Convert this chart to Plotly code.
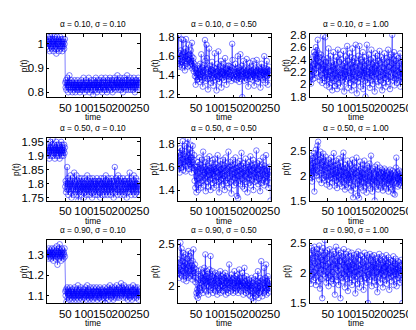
import plotly.graph_objects as go
from plotly.subplots import make_subplots

# time axis and panel parameters
time = list(range(1, 251))
alphas = ["0.10", "0.50", "0.90"]
sigmas = ["0.10", "0.50", "1.00"]

# p(t) for alpha = 0.10
p_a10_s10 = [
    1.01, 0.99, 1.03, 1.00, 0.98, 1.02, 1.01, 0.97, 1.00, 1.03,
    0.99, 1.02, 1.00, 0.98, 1.04, 1.01, 0.99, 0.97, 1.02, 1.00,
    1.03, 0.98, 1.01, 0.99, 1.02, 0.96, 1.00, 1.03, 0.98, 1.01,
    1.00, 1.02, 0.97, 1.01, 0.99, 1.03, 1.00, 0.98, 1.02, 0.99,
    1.01, 0.97, 1.00, 1.02, 0.99, 1.01, 0.98, 1.00, 1.02, 0.84,
    0.82, 0.85, 0.81, 0.84, 0.83, 0.86, 0.82, 0.80, 0.84, 0.83,
    0.87, 0.82, 0.84, 0.81, 0.83, 0.85, 0.82, 0.84, 0.80, 0.83,
    0.82, 0.84, 0.81, 0.83, 0.85, 0.82, 0.80, 0.83, 0.84, 0.82,
    0.81, 0.83, 0.85, 0.82, 0.84, 0.81, 0.83, 0.82, 0.80, 0.84,
    0.83, 0.81, 0.85, 0.82, 0.83, 0.84, 0.81, 0.82, 0.86, 0.83,
    0.82, 0.80, 0.84, 0.83, 0.81, 0.85, 0.82, 0.84, 0.83, 0.81,
    0.84, 0.82, 0.86, 0.83, 0.80, 0.82, 0.84, 0.81, 0.83, 0.85,
    0.82, 0.84, 0.83, 0.81, 0.79, 0.83, 0.85, 0.82, 0.84, 0.83,
    0.81, 0.86, 0.82, 0.84, 0.80, 0.83, 0.85, 0.82, 0.81, 0.84,
    0.83, 0.82, 0.85, 0.81, 0.84, 0.82, 0.86, 0.83, 0.80, 0.84,
    0.82, 0.85, 0.83, 0.81, 0.84, 0.82, 0.83, 0.86, 0.81, 0.84,
    0.83, 0.80, 0.85, 0.82, 0.84, 0.81, 0.83, 0.85, 0.82, 0.86,
    0.84, 0.82, 0.83, 0.81, 0.85, 0.83, 0.80, 0.84, 0.82, 0.85,
    0.83, 0.86, 0.82, 0.84, 0.81, 0.83, 0.85, 0.82, 0.84, 0.87,
    0.82, 0.84, 0.83, 0.81, 0.85, 0.82, 0.84, 0.86, 0.83, 0.81,
    0.84, 0.82, 0.85, 0.83, 0.80, 0.84, 0.82, 0.86, 0.83, 0.85,
    0.82, 0.84, 0.81, 0.85, 0.83, 0.87, 0.82, 0.84, 0.83, 0.81,
    0.85, 0.83, 0.84, 0.82, 0.86, 0.81, 0.84, 0.83, 0.85, 0.82,
    0.84, 0.81, 0.83, 0.86, 0.82, 0.84, 0.80, 0.85, 0.83, 0.84,
    0.82, 0.85, 0.83, 0.81, 0.84, 0.86, 0.82, 0.83, 0.85, 0.84,
]
p_a10_s50 = [
    1.52, 1.58, 1.82, 1.55, 1.49, 1.63, 1.57, 1.51, 1.66, 1.60,
    1.78, 1.54, 1.48, 1.62, 1.77, 1.56, 1.50, 1.64, 1.59, 1.45,
    1.68, 1.55, 1.78, 1.60, 1.52, 1.57, 1.65, 1.49, 1.61, 1.72,
    1.56, 1.62, 1.50, 1.58, 1.54, 1.66, 1.52, 1.60, 1.74, 1.47,
    1.55, 1.50, 1.58, 1.44, 1.52, 1.48, 1.39, 1.46, 1.30, 1.42,
    1.38, 1.45, 1.35, 1.50, 1.42, 1.36, 1.47, 1.40, 1.33, 1.44,
    1.52, 1.38, 1.46, 1.62, 1.41, 1.35, 1.48, 1.28, 1.43, 1.39,
    1.45, 1.51, 1.37, 1.77, 1.55, 1.34, 1.46, 1.72, 1.58, 1.36,
    1.43, 1.25, 1.47, 1.39, 1.68, 1.41, 1.36, 1.50, 1.44, 1.32,
    1.46, 1.40, 1.54, 1.37, 1.45, 1.29, 1.42, 1.48, 1.38, 1.63,
    1.41, 1.35, 1.47, 1.43, 1.24, 1.39, 1.52, 1.44, 1.36, 1.65,
    1.40, 1.46, 1.33, 1.49, 1.42, 1.38, 1.55, 1.27, 1.44, 1.41,
    1.37, 1.48, 1.43, 1.52, 1.35, 1.45, 1.40, 1.58, 1.38, 1.46,
    1.42, 1.30, 1.47, 1.39, 1.44, 1.50, 1.41, 1.36, 1.50, 1.43,
    1.38, 1.49, 1.45, 1.40, 1.34, 1.48, 1.73, 1.56, 1.37, 1.44,
    1.40, 1.46, 1.36, 1.43, 1.38, 1.52, 1.41, 1.35, 1.47, 1.39,
    1.44, 1.60, 1.37, 1.42, 1.48, 1.33, 1.45, 1.40, 1.62, 1.36,
    1.43, 1.39, 1.50, 1.17, 1.44, 1.41, 1.55, 1.38, 1.46, 1.34,
    1.42, 1.48, 1.37, 1.44, 1.40, 1.57, 1.35, 1.45, 1.41, 1.28,
    1.47, 1.39, 1.43, 1.53, 1.36, 1.44, 1.40, 1.49, 1.38, 1.45,
    1.42, 1.35, 1.55, 1.41, 1.46, 1.29, 1.43, 1.39, 1.48, 1.37,
    1.44, 1.40, 1.56, 1.36, 1.45, 1.42, 1.33, 1.49, 1.41, 1.47,
    1.38, 1.44, 1.27, 1.46, 1.40, 1.52, 1.37, 1.43, 1.48, 1.35,
    1.45, 1.41, 1.60, 1.38, 1.44, 1.32, 1.47, 1.40, 1.43, 1.55,
    1.39, 1.46, 1.30, 1.44, 1.41, 1.49, 1.37, 1.45, 1.42, 1.44,
]
p_a10_s100 = [
    2.05, 2.28, 2.12, 2.35, 2.01, 2.22, 2.40, 2.15, 2.30, 2.08,
    2.45, 2.20, 2.52, 2.33, 2.10, 2.48, 2.25, 2.60, 2.18, 2.42,
    2.55, 2.30, 2.72, 2.38, 2.12, 2.50, 2.28, 2.44, 2.06, 2.35,
    2.22, 2.48, 2.15, 2.32, 2.02, 2.25, 2.78, 2.18, 2.40, 2.10,
    2.30, 2.05, 2.76, 2.20, 2.36, 1.98, 2.15, 2.42, 2.08, 2.26,
    2.12, 2.58, 2.20, 1.95, 2.30, 2.14, 2.46, 2.02, 2.22, 2.35,
    2.10, 1.90, 2.28, 2.16, 2.52, 2.05, 2.24, 2.38, 1.97, 2.18,
    2.32, 2.08, 2.44, 2.14, 1.92, 2.26, 2.56, 2.11, 2.20, 2.02,
    2.36, 2.15, 2.48, 1.96, 2.24, 2.10, 2.40, 2.18, 2.06, 2.30,
    2.12, 2.54, 2.22, 1.88, 2.34, 2.16, 2.04, 2.45, 2.20, 2.08,
    2.28, 2.62, 2.14, 2.38, 1.94, 2.22, 2.10, 2.50, 2.18, 2.02,
    2.32, 2.12, 2.44, 1.90, 2.26, 2.58, 2.08, 2.20, 2.36, 1.98,
    2.16, 2.42, 2.06, 2.28, 2.64, 2.12, 2.22, 1.85, 2.34, 2.18,
    2.04, 2.46, 2.24, 2.10, 2.62, 2.15, 2.30, 1.96, 2.40, 2.20,
    2.08, 2.36, 2.14, 2.52, 1.92, 2.26, 2.18, 2.44, 2.05, 2.30,
    1.80, 2.22, 2.38, 2.12, 2.64, 2.16, 2.02, 2.34, 2.20, 2.48,
    2.10, 2.28, 1.94, 2.40, 2.18, 2.06, 2.56, 2.24, 2.14, 2.32,
    2.00, 2.42, 2.20, 2.12, 2.36, 1.88, 2.26, 2.50, 2.16, 2.08,
    2.30, 2.22, 2.46, 2.04, 2.18, 2.38, 1.98, 2.24, 2.54, 2.12,
    2.34, 2.06, 2.20, 2.44, 2.14, 1.90, 2.28, 2.40, 2.16, 2.02,
    2.26, 2.50, 2.10, 2.32, 2.18, 1.96, 2.42, 2.22, 2.08, 2.36,
    2.14, 2.56, 2.04, 2.28, 2.20, 2.44, 1.92, 2.30, 2.12, 2.48,
    2.18, 2.34, 2.80, 2.06, 2.24, 2.40, 2.10, 2.52, 1.98, 2.26,
    2.16, 2.38, 2.08, 2.46, 2.22, 2.02, 2.30, 2.14, 2.42, 2.20,
    2.06, 2.34, 2.18, 2.50, 1.96, 2.24, 2.12, 2.38, 2.04, 2.16,
]

# p(t) for alpha = 0.50
p_a50_s10 = [
    1.91, 1.93, 1.90, 1.92, 1.94, 1.91, 1.89, 1.93, 1.92, 1.95,
    1.90, 1.93, 1.91, 1.94, 1.92, 1.96, 1.90, 1.93, 1.91, 1.92,
    1.94, 1.89, 1.92, 1.93, 1.91, 1.95, 1.90, 1.92, 1.94, 1.91,
    1.93, 1.90, 1.92, 1.94, 1.89, 1.93, 1.91, 1.92, 1.95, 1.90,
    1.92, 1.94, 1.91, 1.93, 1.90, 1.92, 1.94, 1.91, 1.93, 1.79,
    1.81, 1.77, 1.80, 1.78, 1.86, 1.79, 1.82, 1.76, 1.80, 1.78,
    1.81, 1.79, 1.77, 1.83, 1.80, 1.78, 1.75, 1.81, 1.79, 1.82,
    1.78, 1.80, 1.76, 1.84, 1.79, 1.81, 1.77, 1.80, 1.78, 1.83,
    1.79, 1.76, 1.81, 1.78, 1.74, 1.80, 1.82, 1.77, 1.79, 1.81,
    1.78, 1.80, 1.76, 1.82, 1.79, 1.77, 1.81, 1.78, 1.80, 1.75,
    1.79, 1.82, 1.77, 1.80, 1.78, 1.81, 1.76, 1.79, 1.83, 1.78,
    1.80, 1.77, 1.81, 1.79, 1.76, 1.82, 1.78, 1.80, 1.77, 1.81,
    1.79, 1.75, 1.80, 1.82, 1.78, 1.81, 1.77, 1.79, 1.80, 1.76,
    1.81, 1.78, 1.80, 1.77, 1.82, 1.79, 1.76, 1.81, 1.78, 1.80,
    1.77, 1.81, 1.79, 1.75, 1.80, 1.82, 1.78, 1.80, 1.76, 1.81,
    1.79, 1.77, 1.82, 1.78, 1.80, 1.76, 1.81, 1.79, 1.83, 1.77,
    1.80, 1.78, 1.81, 1.76, 1.79, 1.82, 1.78, 1.80, 1.77, 1.81,
    1.79, 1.76, 1.80, 1.82, 1.78, 1.81, 1.77, 1.79, 1.80, 1.75,
    1.81, 1.78, 1.86, 1.79, 1.77, 1.82, 1.80, 1.78, 1.81, 1.76,
    1.80, 1.83, 1.78, 1.81, 1.77, 1.79, 1.82, 1.76, 1.80, 1.78,
    1.81, 1.79, 1.77, 1.80, 1.82, 1.78, 1.76, 1.81, 1.79, 1.80,
    1.77, 1.81, 1.78, 1.80, 1.75, 1.82, 1.79, 1.77, 1.80, 1.78,
    1.81, 1.79, 1.84, 1.77, 1.80, 1.78, 1.82, 1.76, 1.79, 1.81,
    1.78, 1.80, 1.77, 1.83, 1.79, 1.81, 1.76, 1.80, 1.78, 1.82,
    1.79, 1.77, 1.80, 1.78, 1.81, 1.79, 1.76, 1.80, 1.79, 1.78,
]
p_a50_s50 = [
    1.65, 1.58, 1.72, 1.61, 1.68, 1.55, 1.76, 1.63, 1.70, 1.59,
    1.66, 1.74, 1.60, 1.82, 1.67, 1.57, 1.71, 1.64, 1.78, 1.62,
    1.69, 1.56, 1.73, 1.65, 1.80, 1.61, 1.68, 1.84, 1.64, 1.70,
    1.58, 1.75, 1.66, 1.62, 1.79, 1.60, 1.68, 1.55, 1.72, 1.64,
    1.78, 1.59, 1.66, 1.62, 1.70, 1.48, 1.60, 1.42, 1.57, 1.52,
    1.38, 1.60, 1.45, 1.55, 1.64, 1.40, 1.58, 1.50, 1.68, 1.46,
    1.56, 1.62, 1.42, 1.59, 1.51, 1.66, 1.48, 1.57, 1.73, 1.53,
    1.44, 1.60, 1.55, 1.50, 1.64, 1.39, 1.58, 1.52, 1.67, 1.47,
    1.56, 1.61, 1.43, 1.57, 1.53, 1.69, 1.49, 1.59, 1.40, 1.55,
    1.63, 1.50, 1.57, 1.46, 1.66, 1.54, 1.60, 1.42, 1.58, 1.52,
    1.67, 1.48, 1.56, 1.62, 1.44, 1.59, 1.51, 1.70, 1.55, 1.47,
    1.60, 1.38, 1.57, 1.53, 1.65, 1.49, 1.58, 1.44, 1.62, 1.54,
    1.50, 1.66, 1.45, 1.59, 1.52, 1.61, 1.40, 1.56, 1.68, 1.48,
    1.57, 1.53, 1.63, 1.46, 1.58, 1.50, 1.73, 1.55, 1.42, 1.60,
    1.52, 1.64, 1.47, 1.57, 1.37, 1.61, 1.54, 1.49, 1.66, 1.51,
    1.58, 1.44, 1.62, 1.55, 1.50, 1.68, 1.46, 1.59, 1.53, 1.35,
    1.56, 1.63, 1.33, 1.52, 1.60, 1.48, 1.57, 1.65, 1.45, 1.54,
    1.61, 1.72, 1.50, 1.58, 1.43, 1.55, 1.63, 1.49, 1.56, 1.41,
    1.59, 1.52, 1.67, 1.47, 1.57, 1.54, 1.62, 1.38, 1.55, 1.60,
    1.50, 1.64, 1.46, 1.58, 1.53, 1.69, 1.44, 1.56, 1.61, 1.49,
    1.57, 1.52, 1.66, 1.40, 1.59, 1.54, 1.62, 1.47, 1.55, 1.60,
    1.51, 1.74, 1.48, 1.57, 1.53, 1.63, 1.45, 1.58, 1.50, 1.65,
    1.54, 1.39, 1.60, 1.52, 1.57, 1.46, 1.62, 1.55, 1.49, 1.68,
    1.53, 1.58, 1.44, 1.61, 1.50, 1.56, 1.47, 1.70, 1.52, 1.57,
    1.48, 1.59, 1.54, 1.42, 1.56, 1.51, 1.60, 1.46, 1.53, 1.31,
]
p_a50_s100 = [
    2.08, 2.30, 1.95, 2.22, 2.40, 2.02, 2.15, 1.88, 2.35, 2.10,
    2.25, 1.98, 2.45, 1.68, 2.18, 2.38, 2.05, 2.52, 2.12, 2.28,
    2.00, 2.60, 2.20, 2.68, 2.08, 2.42, 1.92, 2.32, 2.15, 2.48,
    2.05, 2.22, 1.85, 2.36, 2.10, 2.28, 1.95, 2.44, 2.02, 2.18,
    2.30, 1.90, 2.12, 2.38, 1.98, 2.20, 1.82, 2.26, 2.06, 2.15,
    1.92, 2.32, 2.00, 2.14, 1.78, 2.24, 2.08, 1.96, 2.36, 2.02,
    2.18, 1.86, 2.10, 2.28, 1.94, 2.45, 2.04, 1.80, 2.20, 1.98,
    2.12, 2.30, 1.90, 2.06, 1.75, 2.22, 2.00, 2.16, 1.88, 2.34,
    1.96, 2.10, 1.84, 2.26, 2.02, 1.92, 2.18, 1.78, 2.08, 2.38,
    1.98, 2.46, 1.86, 2.14, 2.00, 1.72, 2.22, 1.94, 2.06, 1.82,
    2.16, 1.90, 2.30, 2.02, 1.76, 2.10, 1.96, 2.24, 1.85, 2.04,
    1.92, 2.20, 1.70, 2.08, 1.98, 2.32, 1.80, 1.56, 2.12, 1.94,
    2.26, 1.88, 2.04, 1.74, 2.16, 1.96, 2.36, 1.84, 2.06, 1.60,
    2.00, 2.18, 1.90, 1.55, 2.10, 1.82, 2.28, 1.98, 1.76, 2.14,
    1.88, 2.06, 1.94, 2.22, 1.70, 2.02, 1.86, 2.30, 1.96, 1.78,
    2.12, 1.92, 2.04, 1.66, 2.20, 1.98, 1.84, 2.16, 1.90, 2.08,
    1.80, 2.24, 1.96, 2.02, 1.74, 2.40, 1.88, 2.10, 1.94, 1.68,
    2.14, 1.92, 2.06, 1.82, 1.98, 1.50, 2.18, 1.90, 2.04, 1.78,
    2.10, 1.86, 2.22, 1.96, 1.72, 2.08, 1.94, 2.02, 1.80, 2.16,
    1.90, 2.06, 1.76, 1.98, 2.12, 1.84, 2.04, 1.70, 1.96, 2.08,
    1.88, 2.14, 1.78, 2.00, 1.92, 2.10, 1.74, 1.96, 2.06, 1.84,
    2.02, 1.90, 1.68, 2.08, 1.94, 1.82, 2.12, 1.96, 1.76, 2.04,
    1.88, 2.00, 1.72, 2.10, 1.92, 1.64, 2.06, 1.86, 1.98, 1.62,
    2.02, 1.90, 2.16, 2.36, 1.84, 1.96, 2.08, 1.78, 1.94, 2.04,
    1.82, 2.10, 1.92, 1.98, 1.86, 2.06, 1.80, 1.96, 1.90, 1.94,
]

# p(t) for alpha = 0.90
p_a90_s10 = [
    1.30, 1.32, 1.29, 1.31, 1.28, 1.33, 1.30, 1.31, 1.29, 1.32,
    1.30, 1.28, 1.31, 1.33, 1.29, 1.30, 1.32, 1.27, 1.31, 1.30,
    1.33, 1.29, 1.31, 1.28, 1.32, 1.30, 1.34, 1.29, 1.25, 1.31,
    1.30, 1.33, 1.28, 1.31, 1.35, 1.29, 1.32, 1.30, 1.27, 1.31,
    1.33, 1.29, 1.30, 1.32, 1.28, 1.31, 1.30, 1.33, 1.29, 1.12,
    1.10, 1.13, 1.07, 1.12, 1.14, 1.09, 1.11, 1.13, 1.10, 1.12,
    1.08, 1.11, 1.14, 1.10, 1.12, 1.09, 1.13, 1.11, 1.08, 1.12,
    1.10, 1.13, 1.09, 1.11, 1.14, 1.10, 1.12, 1.08, 1.11, 1.13,
    1.09, 1.12, 1.10, 1.15, 1.11, 1.08, 1.12, 1.10, 1.13, 1.09,
    1.11, 1.14, 1.10, 1.12, 1.08, 1.11, 1.13, 1.09, 1.12, 1.10,
    1.13, 1.09, 1.11, 1.14, 1.10, 1.12, 1.08, 1.11, 1.15, 1.10,
    1.12, 1.09, 1.13, 1.11, 1.08, 1.12, 1.10, 1.14, 1.09, 1.11,
    1.13, 1.10, 1.12, 1.08, 1.11, 1.14, 1.09, 1.12, 1.10, 1.13,
    1.11, 1.09, 1.12, 1.14, 1.10, 1.08, 1.12, 1.11, 1.13, 1.09,
    1.12, 1.10, 1.14, 1.09, 1.11, 1.13, 1.08, 1.12, 1.10, 1.11,
    1.13, 1.09, 1.12, 1.10, 1.14, 1.11, 1.065, 1.12, 1.10, 1.13,
    1.09, 1.12, 1.11, 1.14, 1.10, 1.12, 1.08, 1.13, 1.11, 1.15,
    1.10, 1.12, 1.09, 1.13, 1.11, 1.14, 1.10, 1.12, 1.08, 1.13,
    1.11, 1.09, 1.14, 1.12, 1.10, 1.13, 1.11, 1.15, 1.09, 1.12,
    1.10, 1.13, 1.11, 1.14, 1.09, 1.12, 1.10, 1.13, 1.11, 1.16,
    1.12, 1.10, 1.14, 1.11, 1.13, 1.09, 1.12, 1.15, 1.10, 1.13,
    1.11, 1.14, 1.09, 1.12, 1.10, 1.13, 1.11, 1.08, 1.12, 1.14,
    1.10, 1.13, 1.11, 1.09, 1.12, 1.14, 1.10, 1.12, 1.08, 1.13,
    1.11, 1.15, 1.10, 1.12, 1.09, 1.13, 1.11, 1.14, 1.10, 1.12,
    1.13, 1.09, 1.11, 1.14, 1.10, 1.12, 1.08, 1.13, 1.11, 1.12,
]
p_a90_s50 = [
    2.18, 2.32, 2.15, 2.22, 2.10, 2.28, 2.20, 2.52, 2.14, 2.25,
    2.45, 2.12, 2.30, 2.18, 2.40, 2.08, 2.24, 2.35, 2.16, 2.28,
    2.12, 2.38, 2.20, 2.06, 2.26, 2.33, 2.14, 2.22, 2.42, 2.10,
    2.24, 2.18, 2.36, 2.12, 2.28, 2.20, 2.40, 2.15, 2.25, 2.08,
    2.30, 2.18, 2.44, 2.12, 2.22, 2.16, 2.26, 2.05, 2.20, 2.10,
    1.92, 1.88, 1.96, 2.02, 1.86, 1.94, 2.18, 1.90, 2.08, 1.98,
    2.12, 2.04, 2.20, 1.95, 2.10, 2.02, 2.16, 1.92, 2.06, 2.14,
    2.00, 2.22, 2.08, 1.96, 2.38, 2.04, 2.12, 1.94, 2.18, 2.06,
    2.02, 2.15, 1.90, 2.10, 2.00, 2.20, 2.05, 1.95, 2.36, 2.08,
    1.98, 2.12, 2.02, 2.18, 1.92, 2.06, 2.10, 1.96, 2.14, 2.04,
    2.00, 2.16, 1.94, 2.08, 2.02, 2.12, 1.90, 2.06, 1.98, 2.14,
    2.04, 1.96, 2.10, 2.00, 2.18, 1.92, 2.06, 2.02, 2.12, 1.95,
    2.08, 2.00, 2.14, 1.94, 2.04, 2.10, 1.98, 2.16, 2.02, 1.90,
    2.06, 2.12, 1.96, 2.04, 2.10, 1.92, 2.08, 2.02, 2.26, 1.98,
    2.04, 2.10, 1.94, 2.06, 2.00, 2.14, 1.96, 2.08, 2.02, 1.92,
    2.10, 2.04, 2.18, 1.98, 2.06, 1.94, 2.12, 2.00, 2.08, 1.96,
    2.04, 2.14, 1.92, 2.06, 2.00, 2.20, 1.96, 2.10, 2.02, 2.08,
    1.94, 2.06, 2.00, 2.16, 1.98, 2.04, 1.90, 2.10, 2.02, 2.22,
    1.96, 2.06, 2.00, 1.92, 2.12, 2.02, 1.98, 2.08, 1.94, 2.04,
    2.00, 1.90, 2.08, 1.96, 2.02, 1.88, 2.06, 1.98, 2.10, 1.94,
    2.00, 1.86, 2.04, 1.82, 1.96, 2.08, 1.92, 2.00, 1.88, 2.12,
    1.96, 2.02, 1.90, 2.06, 1.94, 2.18, 1.98, 1.86, 2.04, 1.92,
    2.00, 2.10, 1.94, 2.06, 2.30, 1.96, 2.02, 1.88, 2.08, 1.98,
    2.04, 1.92, 2.22, 2.00, 1.94, 2.10, 1.98, 2.26, 1.90, 2.06,
    1.96, 2.02, 2.12, 1.92, 2.04, 1.98, 2.08, 1.94, 2.06, 2.00,
]
p_a90_s100 = [
    2.15, 1.95, 2.30, 2.05, 1.82, 2.42, 2.10, 1.98, 2.25, 2.38,
    1.88, 2.20, 2.02, 2.44, 1.92, 2.16, 2.34, 1.80, 2.28, 2.08,
    2.40, 1.96, 2.18, 2.32, 1.86, 2.12, 2.46, 2.00, 1.74, 2.26,
    2.06, 2.36, 1.90, 2.22, 1.58, 2.14, 2.42, 1.98, 2.30, 2.04,
    2.20, 2.55, 1.94, 2.12, 2.34, 1.84, 2.24, 2.02, 2.38, 1.92,
    2.16, 1.78, 2.28, 2.06, 2.40, 1.96, 2.18, 1.86, 2.30, 2.10,
    1.90, 2.24, 2.02, 2.36, 1.82, 2.14, 2.32, 1.98, 1.64, 2.20,
    2.08, 2.44, 1.94, 2.16, 1.88, 2.26, 2.04, 2.38, 1.80, 2.12,
    2.30, 1.96, 2.20, 1.58, 2.06, 2.34, 1.92, 2.18, 2.00, 2.28,
    1.86, 2.14, 2.40, 1.98, 2.22, 1.76, 2.10, 2.32, 1.94, 2.04,
    2.26, 1.90, 2.16, 1.70, 2.36, 2.02, 2.12, 1.84, 2.28, 1.98,
    2.18, 2.06, 1.92, 2.34, 1.80, 2.14, 2.24, 1.96, 2.08, 2.30,
    1.88, 2.20, 2.02, 1.66, 2.26, 2.10, 1.94, 2.32, 2.04, 1.82,
    2.16, 2.36, 1.98, 2.12, 1.76, 2.22, 2.06, 2.30, 1.90, 2.14,
    2.00, 2.28, 1.86, 2.18, 2.08, 1.72, 2.24, 1.96, 2.34, 2.04,
    1.92, 2.20, 2.10, 1.84, 2.30, 2.02, 2.14, 1.50, 2.26, 1.98,
    2.12, 1.88, 2.32, 2.06, 1.94, 2.22, 2.00, 1.78, 2.28, 2.10,
    1.96, 2.18, 2.04, 2.30, 1.86, 2.14, 1.92, 2.24, 2.08, 1.80,
    2.20, 2.02, 1.68, 2.16, 2.26, 1.94, 2.10, 2.32, 1.98, 2.06,
    1.84, 2.22, 2.00, 2.14, 1.90, 2.28, 2.04, 1.76, 2.18, 2.08,
    1.96, 2.24, 2.10, 1.88, 2.20, 2.02, 2.30, 1.82, 2.12, 1.98,
    2.16, 1.92, 2.26, 2.06, 1.72, 2.18, 2.00, 2.22, 1.94, 2.10,
    2.04, 1.86, 2.20, 2.08, 1.96, 2.28, 1.80, 2.12, 2.02, 2.16,
    1.90, 2.24, 1.98, 2.06, 1.78, 2.14, 2.02, 2.20, 1.92, 2.08,
    2.18, 1.96, 2.04, 1.84, 2.12, 2.00, 2.22, 1.88, 2.06, 1.50,
]

series = [
    [p_a10_s10, p_a10_s50, p_a10_s100],
    [p_a50_s10, p_a50_s50, p_a50_s100],
    [p_a90_s10, p_a90_s50, p_a90_s100],
]
x_ticks = [50, 100, 150, 200, 250]
y_ticks = [
    [[0.8, 0.9, 1.0], [1.2, 1.4, 1.6, 1.8], [1.8, 2.0, 2.2, 2.4, 2.6, 2.8]],
    [[1.75, 1.8, 1.85, 1.9, 1.95], [1.4, 1.6, 1.8], [1.5, 2.0, 2.5]],
    [[1.1, 1.2, 1.3], [2.0, 2.5], [1.5, 2.0, 2.5]],
]
y_ranges = [
    [[0.78, 1.04], [1.17, 1.83], [1.79, 2.81]],
    [[1.74, 1.965], [1.31, 1.85], [1.5, 2.76]],
    [[1.064, 1.37], [1.8, 2.55], [1.5, 2.55]],
]

W, H = 416, 330
col_px = [(40, 135), (174, 269), (309, 404)]
row_px = [(22, 87), (129, 194), (235, 300)]
FONT = "Liberation Sans, Arial, sans-serif"
BLUE = "rgb(0,0,255)"

fig = make_subplots(rows=3, cols=3)
annotations = []

for r in range(3):
    for c in range(3):
        vals = series[r][c]
        fig.add_trace(go.Scatter(
            x=time[:len(vals)], y=vals, mode="lines+markers",
            line=dict(color=BLUE, width=0.5),
            marker=dict(symbol="circle-open", size=5.5, color=BLUE, line=dict(width=0.5, color=BLUE)),
            showlegend=False), row=r + 1, col=c + 1)

        x0, x1 = col_px[c]
        y0, y1 = row_px[r]
        axis_common = dict(showline=True, linecolor="black", linewidth=0.8, mirror="ticks",
                           ticks="inside", ticklen=2.5, tickcolor="black", tickwidth=0.6,
                           showgrid=False, zeroline=False,
                           tickfont=dict(family=FONT, size=11.5, color="black"))
        fig.update_xaxes(domain=[x0 / W, x1 / W], range=[1, 250],
                         tickvals=x_ticks, ticktext=[str(t) for t in x_ticks], tickangle=0,
                         **axis_common, row=r + 1, col=c + 1)
        yt = y_ticks[r][c]
        ylabels = [f"{v:g}" for v in yt]
        fig.update_yaxes(domain=[1 - y1 / H, 1 - y0 / H], range=y_ranges[r][c],
                         tickvals=yt, ticktext=ylabels,
                         **axis_common, row=r + 1, col=c + 1)

        # y label sits left of the widest tick label
        widest = max(len(s) for s in ylabels)
        ylab_off = 24 if widest <= 3 else 32

        xm = (x0 + x1) / 2
        annotations.append(dict(text=f"α = {alphas[r]}, σ = {sigmas[c]}",
                                x=xm / W, y=1 - (y0 - 10.5) / H, xref="paper", yref="paper",
                                showarrow=False, xanchor="center", yanchor="middle",
                                font=dict(family=FONT, size=8.3, color="black")))
        annotations.append(dict(text="time", x=xm / W, y=1 - (y1 + 21) / H,
                                xref="paper", yref="paper", showarrow=False,
                                xanchor="center", yanchor="middle",
                                font=dict(family=FONT, size=8.5, color="black")))
        annotations.append(dict(text="p(t)", x=(x0 - ylab_off) / W, y=1 - ((y0 + y1) / 2) / H,
                                xref="paper", yref="paper", showarrow=False, textangle=-90,
                                xanchor="center", yanchor="middle",
                                font=dict(family=FONT, size=8.5, color="black")))

fig.update_layout(width=W, height=H, autosize=False,
                  margin=dict(l=0, r=0, t=0, b=0),
                  paper_bgcolor="white", plot_bgcolor="white",
                  annotations=annotations)

fig.write_html("out.html")
